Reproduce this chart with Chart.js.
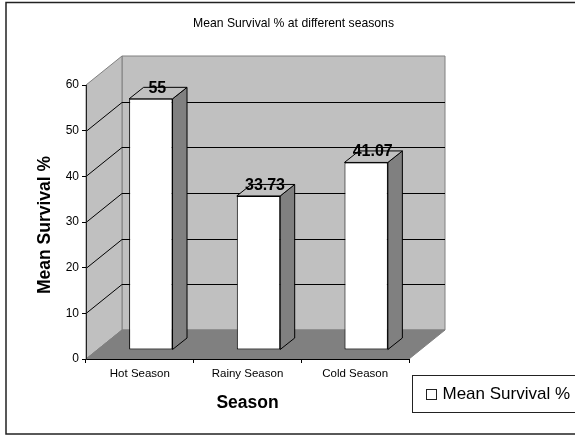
<!DOCTYPE html>
<html>
<head>
<meta charset="utf-8">
<style>
  html, body { margin: 0; padding: 0; background: #fff; overflow: hidden; }
  #survivalChart { display: block; }
</style>
<script src="https://cdn.jsdelivr.net/npm/chart.js@4/dist/chart.umd.js"></script>
</head>
<body>
<div style="width:575px;height:435px"><canvas id="survivalChart" width="575" height="435"></canvas></div>
<script>
const seasons = ["Hot Season", "Rainy Season", "Cold Season"]
const meanSurvival = [55, 33.73, 41.07]
const seriesName = "Mean Survival %"

const FONT = "'Liberation Sans', Arial, sans-serif"
const WALL = "#c0c0c0"
const SHADE = "#808080"

// how far the back wall and the bars sit behind the axis plane
const wallDepth = { x: 36, y: -29 }
const barOffset = { x: 11, y: -9 }
const barDepth = { x: 14.5, y: -11.5 }

function poly(ctx, pts, fill, stroke) {
  ctx.beginPath()
  pts.forEach((p, i) => i ? ctx.lineTo(p[0], p[1]) : ctx.moveTo(p[0], p[1]))
  ctx.closePath()
  ctx.fillStyle = fill
  ctx.fill()
  ctx.lineWidth = 1
  ctx.strokeStyle = stroke
  ctx.stroke()
}

/* Frame, walls, floor and gridlines */
const room = {
  id: "room",
  afterLayout(chart) {
    // title is centred on the whole frame, not on the plot
    chart.titleBlock.left += 89
    chart.titleBlock.right += 89
    const y = chart.scales.y
    const drawTitle = y.drawTitle
    y.drawTitle = function () {
      chart.ctx.save()
      chart.ctx.translate(0, 3)
      drawTitle.call(y)
      chart.ctx.restore()
    }
  },
  beforeDraw(chart) {
    const ctx = chart.ctx
    const { left, right, top, bottom } = chart.chartArea
    const dx = wallDepth.x, dy = wallDepth.y
    ctx.save()
    ctx.fillStyle = "#fff"
    ctx.fillRect(0, 0, chart.width, chart.height)
    ctx.strokeStyle = "#222"
    ctx.lineWidth = 1.5
    ctx.strokeRect(6, 2.5, chart.width + 20, chart.height - 3.5)

    poly(ctx, [[left + dx, top + dy], [right + dx, top + dy], [right + dx, bottom + dy], [left + dx, bottom + dy]], WALL, SHADE)
    poly(ctx, [[left, top], [left + dx, top + dy], [left + dx, bottom + dy], [left, bottom]], WALL, SHADE)
    poly(ctx, [[left, bottom], [right, bottom], [right + dx, bottom + dy], [left + dx, bottom + dy]], SHADE, SHADE)

    const y = chart.scales.y
    ctx.strokeStyle = "#000"
    y.ticks.forEach(t => {
      if (t.value === y.min || t.value === y.max) return
      const py = Math.round(y.getPixelForValue(t.value)) + 0.5
      ctx.beginPath()
      ctx.moveTo(left, py)
      ctx.lineTo(left + dx, py + dy)
      ctx.lineTo(right + dx, py + dy)
      ctx.stroke()
    })
    ctx.restore()
  }
}

/* Moves the bars back from the axis plane and adds side and top faces */
const bars3d = {
  id: "bars3d",
  beforeDatasetDraw(chart, args) {
    const ctx = chart.ctx
    ctx.save()
    ctx.translate(barOffset.x, barOffset.y)
    args.meta.data.forEach(bar => {
      const p = bar.getProps(["x", "y", "base", "width"], true)
      const l = p.x - p.width / 2, r = p.x + p.width / 2
      const dx = barDepth.x, dy = barDepth.y
      poly(ctx, [[r, p.y], [r + dx, p.y + dy], [r + dx, p.base + dy], [r, p.base]], SHADE, "#000")
      poly(ctx, [[l, p.y], [r, p.y], [r + dx, p.y + dy], [l + dx, p.y + dy]], WALL, "#000")
    })
  },
  afterDatasetDraw(chart) {
    chart.ctx.restore()
  },
  afterDatasetsDraw(chart) {
    const ctx = chart.ctx
    const meta = chart.getDatasetMeta(0)
    ctx.save()
    ctx.font = "bold 16px " + FONT
    ctx.fillStyle = "#000"
    ctx.textAlign = "center"
    ctx.textBaseline = "middle"
    meta.data.forEach((bar, i) => {
      const p = bar.getProps(["x", "y"], true)
      ctx.fillText(String(meanSurvival[i]), p.x + barOffset.x + 6.5, p.y + barOffset.y - 10.5)
    })
    ctx.restore()
  }
}

/* Legend box, cut off by the right edge of the page */
const legendBox = {
  id: "legendBox",
  afterDraw(chart) {
    const ctx = chart.ctx
    ctx.save()
    ctx.fillStyle = "#fff"
    ctx.strokeStyle = "#222"
    ctx.lineWidth = 1
    ctx.fillRect(412.5, 375.5, 180, 37)
    ctx.strokeRect(412.5, 375.5, 180, 37)
    ctx.strokeRect(426.5, 389.5, 10, 10)
    ctx.fillStyle = "#000"
    ctx.font = "17px " + FONT
    ctx.textBaseline = "middle"
    ctx.fillText(chart.data.datasets[0].label, 442.5, 394)
    ctx.restore()
  }
}

new Chart(document.getElementById("survivalChart"), {
  type: "bar",
  data: {
    labels: seasons,
    datasets: [{
      label: seriesName,
      data: meanSurvival,
      backgroundColor: "#fff",
      borderColor: "#000",
      borderWidth: 1,
      borderSkipped: false,
      barPercentage: 0.403,
      categoryPercentage: 1,
      clip: false
    }]
  },
  plugins: [room, bars3d, legendBox],
  options: {
    responsive: false,
    animation: false,
    layout: { padding: { left: 0, top: 0, right: 166, bottom: 0 } },
    plugins: {
      legend: { display: false },
      tooltip: { enabled: false },
      title: {
        display: true,
        text: "Mean Survival % at different seasons",
        color: "#000",
        font: { family: FONT, size: 12.2, weight: "normal", lineHeight: 1.2 },
        padding: { top: 16.6, bottom: 53.76 }
      }
    },
    scales: {
      x: {
        afterFit(s) { s.height = 76 },
        grid: { drawOnChartArea: false, drawTicks: true, tickLength: 4, color: "#000" },
        border: { color: "#000" },
        ticks: { color: "#000", font: { family: FONT, size: 11.5 }, padding: 4, maxRotation: 0 },
        title: {
          display: true,
          text: "Season",
          color: "#000",
          font: { family: FONT, size: 17.5, weight: "bold", lineHeight: 1.2 },
          padding: { top: 0, bottom: 21 }
        }
      },
      y: {
        min: 0,
        max: 60,
        afterFit(s) { s.width = 86 },
        grid: { drawOnChartArea: false, drawTicks: true, tickLength: 4, color: "#000" },
        border: { color: "#222" },
        ticks: { stepSize: 10, color: "#000", font: { family: FONT, size: 12 }, padding: 3 },
        title: {
          display: true,
          text: "Mean Survival %",
          color: "#000",
          font: { family: FONT, size: 17.5, weight: "bold", lineHeight: 1.2 },
          padding: { top: 35, bottom: 0 }
        }
      }
    }
  }
})
</script>
</body>
</html>
